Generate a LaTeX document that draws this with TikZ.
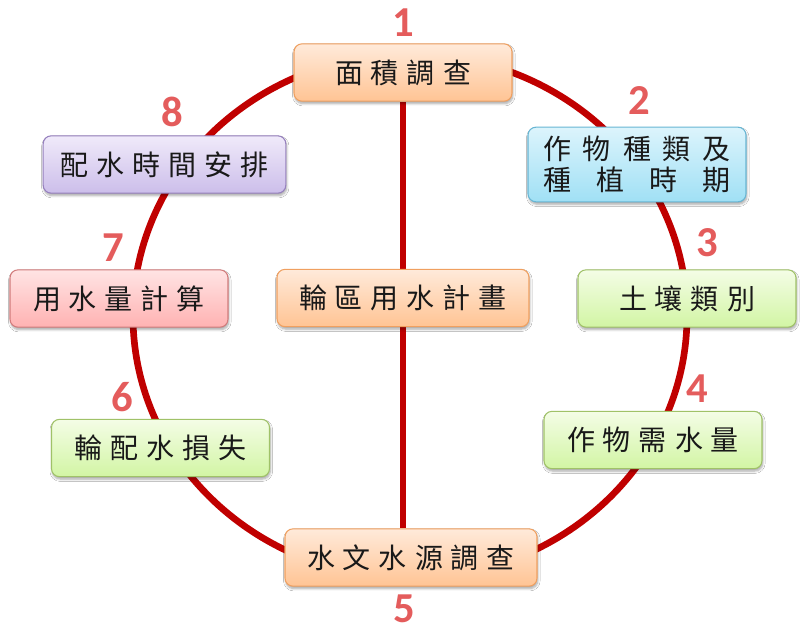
\documentclass[tikz,border=0pt]{standalone}
\usepackage{fontspec}
\usepackage{tikz}
\usetikzlibrary{positioning,backgrounds,shadows.blur}
\newfontfamily\cjk{Noto Sans CJK TC}
\newfontfamily\numfont{Carlito}

\definecolor{ringred}{RGB}{192,0,0}
\definecolor{numred}{RGB}{228,92,92}
\definecolor{orangetop}{RGB}{255,234,218}
\definecolor{orangebot}{RGB}{255,196,148}
\definecolor{orangeline}{RGB}{240,160,96}
\definecolor{bluetop}{RGB}{220,244,252}
\definecolor{bluebot}{RGB}{160,224,245}
\definecolor{blueline}{RGB}{104,182,212}
\definecolor{greentop}{RGB}{244,253,230}
\definecolor{greenbot}{RGB}{210,245,164}
\definecolor{greenline}{RGB}{160,194,104}
\definecolor{redtop}{RGB}{255,228,228}
\definecolor{redbot}{RGB}{255,178,178}
\definecolor{redline}{RGB}{210,124,124}
\definecolor{purpletop}{RGB}{240,234,250}
\definecolor{purplebot}{RGB}{204,190,234}
\definecolor{purpleline}{RGB}{150,128,190}

\newcommand{\spread}[2][6pt]{\foreach \c in {#2}{\c\hspace{#1}}}

\begin{document}
\begin{tikzpicture}[x=0.75pt, y=-0.75pt,
  stepbox/.style={draw, rounded corners=6pt, line width=0.8pt, inner sep=0pt,
    minimum width=163.5pt, minimum height=43pt, text=black!90,
    font=\cjk\fontsize{21}{23.5}\selectfont,
    blur shadow={shadow xshift=0.6pt, shadow yshift=-1.8pt, shadow blur steps=6, shadow opacity=35}},
  orangebox/.style={stepbox, draw=orangeline, top color=orangetop, bottom color=orangebot},
  bluebox/.style={stepbox, draw=blueline, top color=bluetop, bottom color=bluebot},
  greenbox/.style={stepbox, draw=greenline, top color=greentop, bottom color=greenbot},
  redbox/.style={stepbox, draw=redline, top color=redtop, bottom color=redbot},
  purplebox/.style={stepbox, draw=purpleline, top color=purpletop, bottom color=purplebot},
  stepnum/.style={inner sep=0pt, text=numred, font=\numfont\bfseries\fontsize{32}{32}\selectfont},
  ring/.style={draw=ringred, line width=5pt}]

\useasboundingbox (0,0) rectangle (803,637);

% boxes round the ring
\node[orangebox] (step1) at (403,72.5) {\spread{面,積,調,查}};
\node[bluebox, minimum height=56pt, align=center] (step2) at (637,164.5)
  {\spread[9pt]{作,物,種,類,及}\\\makebox[141pt][s]{種\hfill 植\hfill 時\hfill 期}\hspace{9pt}};
\node[greenbox] (step3) at (687,298.5) {\spread{土,壤,類,別}};
\node[greenbox] (step4) at (653,440) {\spread{作,物,需,水,量}};
\node[orangebox, minimum width=189pt] (step5) at (411,557.5) {\spread{水,文,水,源,調,查}};
\node[greenbox] (step6) at (160.5,448) {\spread{輪,配,水,損,失}};
\node[redbox] (step7) at (119,298.5) {\spread{用,水,量,計,算}};
\node[purplebox, minimum width=182pt] (step8) at (164.5,164.5) {\spread{配,水,時,間,安,排}};
\node[orangebox, minimum width=189pt] (plan) at (403,298) {\spread{輪,區,用,水,計,畫}};

% numbers
\node[stepnum, above=5pt of step1] (num1) {1};
\node[stepnum, above=9pt of step2, xshift=2pt] (num2) {2};
\node[stepnum, above=9pt of step3, xshift=15pt] (num3) {3};
\node[stepnum, above=6pt of step4, xshift=33pt] (num4) {4};
\node[stepnum, below=6pt of step5, xshift=-5pt] (num5) {5};
\node[stepnum, above=5pt of step6, xshift=-29pt] (num6) {6};
\node[stepnum, above=6pt of step7, xshift=-4.5pt] (num7) {7};
\node[stepnum, above=6pt of step8, xshift=5.5pt] (num8) {8};

\begin{scope}[on background layer]
\fill[white] (0,0) rectangle (803,637);
\coordinate (hub) at (410,316);
\draw[ring] (hub) ellipse [x radius=207.75pt, y radius=196.5pt];
\draw[ring] (step1.south) -- (step1.south |- step5.north);
\end{scope}
\end{tikzpicture}
\end{document}
